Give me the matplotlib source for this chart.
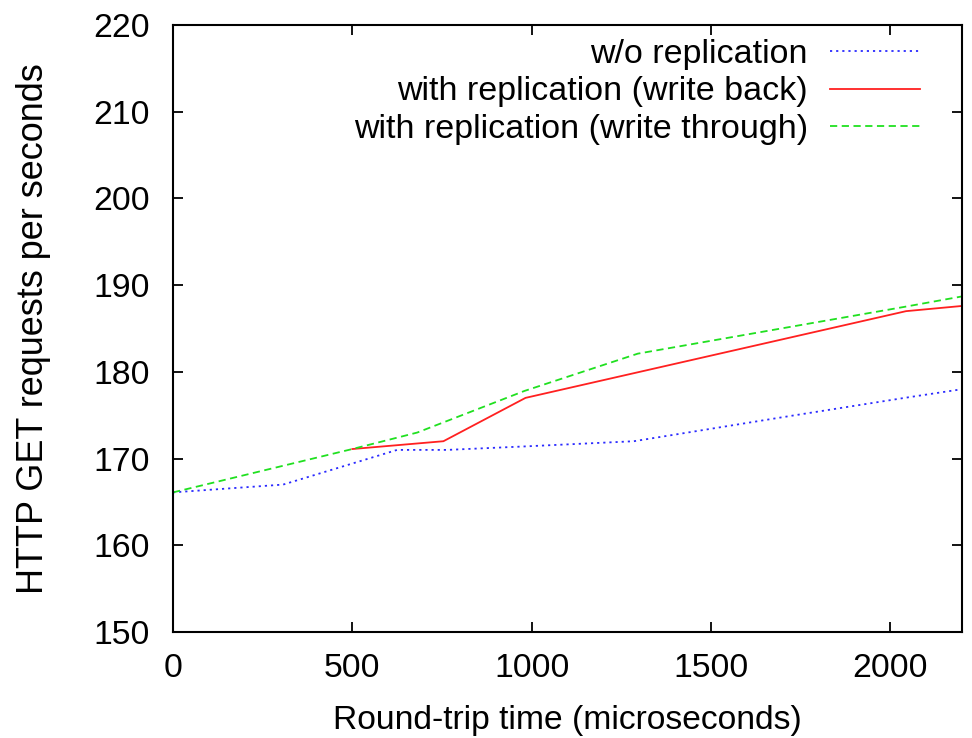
import matplotlib
matplotlib.use("Agg")
import matplotlib.pyplot as plt

plt.rcParams['font.family'] = ['Liberation Sans', 'DejaVu Sans']

# Data
x_norep = [0, 307, 625, 765, 980, 1285, 1704, 2040, 2200]
y_norep = [166.1, 167.0, 171.0, 171.0, 171.4, 172.0, 174.8, 177.0, 178.0]

x_wb = [500, 754, 983, 2044, 2200]
y_wb = [171.1, 172.0, 177.0, 187.0, 187.6]

x_wt = [0, 500, 681, 980, 1296, 2040, 2200]
y_wt = [166.1, 171.1, 173.0, 177.8, 182.1, 187.5, 188.7]

labels = ["w/o replication", "with replication (write back)",
          "with replication (write through)"]
xticks = [0, 500, 1000, 1500, 2000]
yticks = [150, 160, 170, 180, 190, 200, 210, 220]

fig = plt.figure(figsize=(9.72, 7.38), dpi=100)
ax = fig.add_axes([173/972, 106/738, 789/972, 607/738])

ax.plot(x_norep, y_norep, color='#2a2aff', lw=1.3, linestyle=(0, (1.2, 2.2)), label=labels[0])
ax.plot(x_wb, y_wb, color='#ff2020', lw=1.3, linestyle='-', label=labels[1])
ax.plot(x_wt, y_wt, color='#20e020', lw=1.3, linestyle=(0, (4, 2.5)), label=labels[2])

ax.set_xlim(0, 2200)
ax.set_ylim(150, 220)
ax.set_xticks(xticks)
ax.set_yticks(yticks)
ax.tick_params(axis='both', direction='in', length=7, width=1.3, labelsize=24.3,
               top=True, right=True)
ax.tick_params(axis='x', pad=15)
ax.tick_params(axis='y', pad=17)
for s in ax.spines.values():
    s.set_linewidth(1.5)

ax.set_xlabel("Round-trip time (microseconds)", fontsize=24.2, labelpad=15.5)
ax.set_ylabel("HTTP GET requests per seconds", fontsize=25.9, labelpad=30)

leg = ax.legend(loc='upper right', bbox_to_anchor=(0.9468, 0.977), markerfirst=False,
                frameon=False, fontsize=24.5, handlelength=2.65, handletextpad=0.65,
                labelspacing=0.19, borderaxespad=0.0, borderpad=0.0)

fig.savefig("out.png", dpi=100)
